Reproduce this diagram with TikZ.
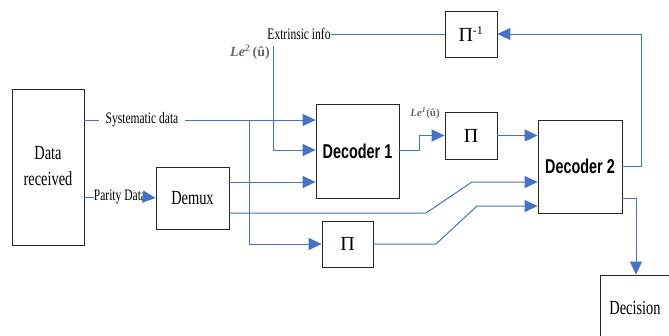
\documentclass[tikz,border=0pt]{standalone}
\usepackage{fontspec}
\setmainfont{Liberation Serif}
\newfontfamily\arialfont{Liberation Sans}
\usepackage{graphicx}
\usetikzlibrary{arrows.meta,calc}
\definecolor{lnblue}{RGB}{68,114,196}
\definecolor{lblgray}{RGB}{105,105,105}
\newcommand\sq[1]{\scalebox{0.72}[1]{#1}}
\begin{document}
\begin{tikzpicture}[x=1pt,y=-1pt,
  blk/.style={draw=black!85, line width=0.8pt, inner sep=0pt, fill=white},
  conn/.style={draw=lnblue, line width=1pt},
  arr/.style={conn, -{Triangle[length=13pt,width=12pt]}},
  txt/.style={inner sep=0pt, font=\fontsize{16}{16}\selectfont},
  big/.style={font=\fontsize{20}{26}\selectfont},
  deco/.style={font=\arialfont\bfseries\fontsize{20}{20}\selectfont},
  pisym/.style={font=\fontsize{20}{20}\selectfont},
  lel/.style={inner sep=0pt, text=lblgray, font=\bfseries\itshape},
  ]
\useasboundingbox (0,0) rectangle (669,335);
% blocks
\node[blk, minimum width=72pt, minimum height=156pt, big] (dr) at (48,167)
  {\sq{\begin{tabular}{@{}c@{}}Data\\received\end{tabular}}};
\node[blk, minimum width=73pt, minimum height=62pt, big] (demux) at (192.5,198) {\sq{Demux}};
\node[blk, minimum width=83pt, minimum height=94pt, deco] (dec1) at (357.5,151) {\sq{Decoder 1}};
\node[blk, minimum width=84pt, minimum height=93pt, deco] (dec2) at (580,166.5) {\sq{Decoder 2}};
\node[blk, minimum width=52pt, minimum height=46pt, pisym] (pinv) at (471,34) {Π\textsuperscript{\fontsize{12}{12}\selectfont -1}};
\node[blk, minimum width=52pt, minimum height=47pt, pisym] (pia) at (471,135.5) {Π};
\node[blk, minimum width=51pt, minimum height=46pt, pisym] (pib) at (347.5,244) {Π};
\node[blk, minimum width=70pt, minimum height=65pt, big] (decis) at (635,307.5) {\sq{Decision}};
% level coordinates
\coordinate (ysys) at (0,120);
\coordinate (ypar) at (0,197);
\coordinate (ydm1) at (0,182);
\coordinate (ydm2) at (0,213);
\coordinate (yle) at (0,150);
\coordinate (yd2a) at (0,182);
\coordinate (yd2b) at (0,206);
\coordinate (yd2o) at (0,166);
\coordinate (yd2d) at (0,198);
\coordinate (brk) at (249,120);
\coordinate (letop) at (273,46);
\coordinate (lebot) at (273,150);
\coordinate (dturn) at (636,198);
% connectors
\draw[arr] (dr.east |- ysys) -- (dec1.west |- ysys);
\draw[arr] (brk) -- (brk |- pib.west) -- (pib.west);
\draw[arr] (letop) -- (lebot) -- (dec1.west |- yle);
\draw[arr] (demux.east |- ydm1) -- (dec1.west |- ydm1);
\draw[arr] (demux.east |- ydm2) -- (426,213) -- (472,182) -- (dec2.west |- yd2a);
\draw[arr] (pib.east) -- (436,244) -- (477,206) -- (dec2.west |- yd2b);
\draw[arr] (dec1.east |- yle) -- (419,150) -- (419,135.5) -- (pia.west);
\draw[arr] (pia.east) -- (dec2.west |- pia.east);
\draw[arr] (dec2.east |- yd2o) -- (641,166) -- (641,34) -- (pinv.east);
\draw[arr] (dec2.east |- yd2d) -- (dturn) -- (dturn |- decis.north);
% labels
\node[txt, fill=white, inner xsep=7pt] (systxt) at (142,120) {\sq{Systematic data}};
\node[txt, fill=white] (partxt) at (120,197) {\sq{Parity Data}};
\draw[conn] (dr.east |- ypar) -- (partxt.west);
\draw[arr] (partxt.east) -- (demux.west);
\node[txt] (exttxt) at (299,34) {\sq{Extrinsic info}};
\draw[conn] (exttxt.east) -- (pinv.west);
\node[lel, font=\bfseries\itshape\fontsize{14}{14}\selectfont] (le2) at (250,52) {Le\textsuperscript{2}\,\textup{(û)}};
\node[lel, font=\bfseries\itshape\fontsize{11}{11}\selectfont] (le1) at (425,113) {Le\textsuperscript{1}\textup{(û)}};
\end{tikzpicture}
\end{document}
